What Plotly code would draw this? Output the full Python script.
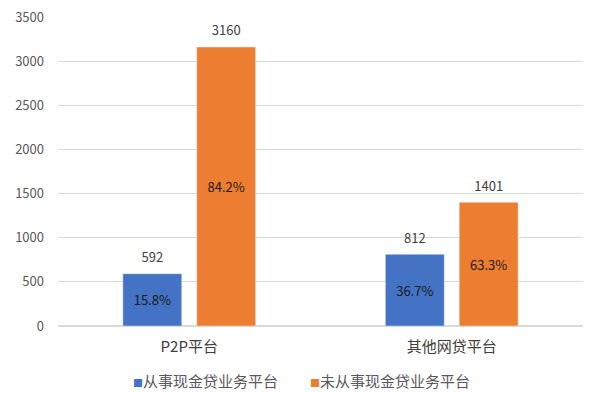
import plotly.graph_objects as go

categories = ["P2P平台", "其他网贷平台"]
series_names = ["从事现金贷业务平台", "未从事现金贷业务平台"]
cash_loan = [592, 812]
no_cash_loan = [3160, 1401]
cash_pct = ["15.8%", "36.7%"]
no_cash_pct = ["84.2%", "63.3%"]
colors = ["#4472C4", "#ED7D31"]
y_ticks = [0, 500, 1000, 1500, 2000, 2500, 3000, 3500]

font = "Noto Sans CJK SC, Microsoft YaHei, sans-serif"
fig = go.Figure()
for i, (name, vals, pcts) in enumerate(zip(series_names, [cash_loan, no_cash_loan], [cash_pct, no_cash_pct])):
    fig.add_trace(go.Bar(
        x=categories, y=vals, name=name, marker_color=colors[i],
        text=pcts, textposition="inside", insidetextanchor="middle",
        textfont=dict(size=13, color="#1a1a1a", family=font),
        offsetgroup=str(i), alignmentgroup="a", showlegend=False,
    ))
for i, vals in enumerate([cash_loan, no_cash_loan]):
    fig.add_trace(go.Scatter(
        x=categories, y=vals, mode="markers+text", text=[str(v) for v in vals],
        marker=dict(size=12, opacity=0),
        textposition="top center", textfont=dict(size=13, color="#404040", family=font),
        offsetgroup=str(i), alignmentgroup="a", showlegend=False, hoverinfo="skip",
        cliponaxis=False,
    ))

# legend drawn as annotations (small square + name)
legend_x = [0.139, 0.476]
for i, name in enumerate(series_names):
    fig.add_annotation(
        xref="paper", yref="paper", x=legend_x[i], y=-0.175,
        xanchor="left", yanchor="middle", showarrow=False,
        text=f"<span style='color:{colors[i]};font-size:10px'>■</span>{name}",
        font=dict(size=15, color="#595959", family=font),
    )

fig.update_layout(
    width=598, height=393,
    margin=dict(l=58, r=15, t=17, b=67, autoexpand=False),
    barmode="group", scattermode="group",
    bargap=0.437, bargroupgap=0.203, scattergap=0.437,
    plot_bgcolor="white", paper_bgcolor="white",
    font=dict(family=font, size=13, color="#595959"),
    showlegend=False,
)
fig.update_xaxes(showline=False, ticks="", automargin=False, ticklabelstandoff=10,
                 tickfont=dict(size=15, color="#404040"))
fig.update_yaxes(range=[0, 3500], tickvals=y_ticks, gridcolor="#d9d9d9", gridwidth=1,
                 zeroline=True, zerolinecolor="#d9d9d9", ticks="", automargin=False,
                 tickfont=dict(size=13, color="#595959"), ticklabelstandoff=13)

fig.write_html("out.html", config={"displayModeBar": False},
               post_script="document.body.style.margin='0';document.body.style.overflow='hidden';")
